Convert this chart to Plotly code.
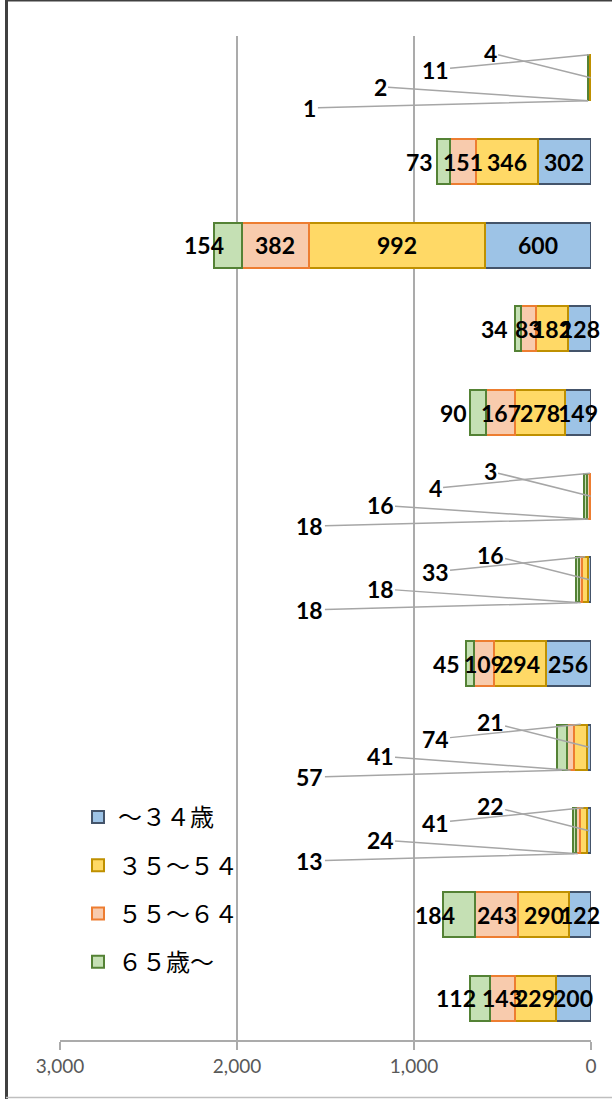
import plotly.graph_objects as go

# ---------------- data ----------------
categories = ["1", "2", "3", "4", "5", "6", "7", "8", "9", "10", "11", "12"]
series_names = ["～３４歳", "３５～５４", "５５～６４", "６５歳～"]
age_under34 = [4, 302, 600, 128, 149, 3, 16, 256, 21, 22, 122, 200]
age_35_54 = [11, 346, 992, 182, 278, 4, 33, 294, 74, 41, 290, 229]
age_55_64 = [2, 151, 382, 83, 167, 16, 18, 109, 41, 24, 243, 143]
age_over65 = [1, 73, 154, 34, 90, 18, 18, 45, 57, 13, 184, 112]
x_tick_values = [0, 1000, 2000, 3000]
x_tick_labels = ["0", "1,000", "2,000", "3,000"]

series_values = [age_under34, age_35_54, age_55_64, age_over65]

# ---------------- styles ----------------
fills = ["#9DC3E6", "#FFD966", "#F8CBAD", "#C5E0B4"]
borders = ["#44546A", "#BF9000", "#ED7D31", "#548235"]

W, H = 612, 1099
ML, MR, MT, MB = 60, 21, 36, 59
PW, PH = W - ML - MR, H - MT - MB


def px_x(p):
    return (p - ML) / PW


def px_y(p):
    return (H - MB - p) / PH


fig = go.Figure()
for k in range(4):
    fig.add_trace(go.Bar(
        y=categories, x=series_values[k], name=series_names[k], orientation="h",
        marker=dict(color=fills[k], line=dict(color=borders[k], width=2)),
        legendgroup=str(k), hoverinfo="skip",
    ))

label_font = dict(family="Lato", size=23, color="black", weight="bold")
annotations = []

# leader-label layout (text x in data units, arrow-point shift, text y offset)
leader_text_x = [570, 881, 1192, 1588]
leader_point_shift = [0, 23, -23, -23]
leader_text_dy = [-25, 15, -14, 7]

for i, cat in enumerate(categories):
    vals = [series_values[k][i] for k in range(4)]
    total = sum(vals)
    cum = 0
    for k in range(4):
        mid = cum + vals[k] / 2
        cum += vals[k]
        if total < 250:
            annotations.append(dict(
                x=mid, y=i, xref="x", yref="y", text=str(vals[k]),
                showarrow=True, arrowhead=0, arrowwidth=1.5, arrowcolor="#A6A6A6",
                axref="x", ax=leader_text_x[k], ayref="pixel", ay=leader_text_dy[k],
                yshift=leader_point_shift[k], font=label_font, standoff=0,
            ))
        else:
            annotations.append(dict(
                x=mid, y=i, xref="x", yref="y", text=str(vals[k]),
                showarrow=False, font=label_font,
                xshift=-24 if k == 3 else 0,
            ))

# outer frame of the chart (left, top, bottom edges)
shapes = [
    dict(type="rect", xref="paper", yref="paper", x0=px_x(603), x1=px_x(W + 2),
         y0=px_y(H + 2), y1=px_y(-2), fillcolor="white", line=dict(width=0), layer="above"),
    dict(type="line", xref="paper", yref="paper", x0=px_x(6.5), x1=px_x(6.5),
         y0=px_y(H), y1=px_y(0), line=dict(color="#404040", width=3), layer="above"),
    dict(type="line", xref="paper", yref="paper", x0=px_x(6), x1=px_x(W),
         y0=px_y(0.5), y1=px_y(0.5), line=dict(color="#404040", width=2), layer="above"),
    dict(type="line", xref="paper", yref="paper", x0=px_x(6), x1=px_x(W),
         y0=px_y(1097.5), y1=px_y(1097.5), line=dict(color="#BFBFBF", width=1.5), layer="above"),
]

fig.update_layout(
    width=W, height=H,
    margin=dict(l=ML, r=MR, t=MT, b=MB, pad=0, autoexpand=False),
    paper_bgcolor="white", plot_bgcolor="white",
    barmode="stack", bargap=0.46,
    showlegend=True,
    legend=dict(
        x=px_x(78), y=px_y(795), xanchor="left", yanchor="top",
        font=dict(family="Noto Sans CJK JP", size=24, color="black"),
        bgcolor="rgba(0,0,0,0)", traceorder="grouped", tracegroupgap=14,
        itemwidth=30,
    ),
    xaxis=dict(
        range=[3000, 0], tickvals=x_tick_values, ticktext=x_tick_labels,
        showgrid=True, gridcolor="#ABABAB", gridwidth=1.5,
        showline=True, linecolor="#ABABAB", linewidth=1.5,
        ticks="outside", ticklen=8, tickcolor="#ABABAB", tickwidth=1.5,
        tickfont=dict(family="Lato", size=19, color="#595959"),
        zeroline=False, fixedrange=True, automargin=False,
    ),
    yaxis=dict(
        categoryorder="array", categoryarray=categories,
        range=[len(categories) - 0.5, -0.5],
        showticklabels=False, showgrid=False, zeroline=False, showline=False,
        ticks="", fixedrange=True, automargin=False,
    ),
    annotations=annotations,
    shapes=shapes,
)

fig.write_html(
    "out.html",
    config={"displayModeBar": False},
    post_script="document.body.style.margin='0';document.body.style.overflow='hidden';",
)
